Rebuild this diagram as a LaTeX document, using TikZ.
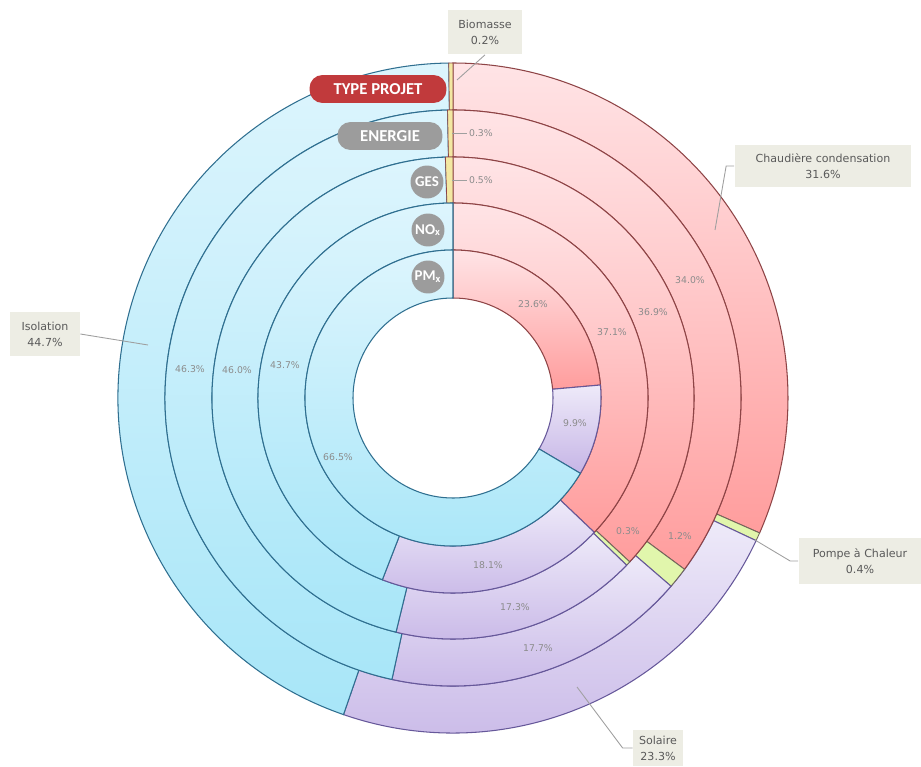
\documentclass[tikz,border=0pt]{standalone}
\usepackage{fontspec}
\setmainfont{Carlito}
\newfontfamily\labelfont{DejaVu Sans}
\usetikzlibrary{positioning}

\definecolor{redA}{HTML}{FFE4E6}
\definecolor{redB}{HTML}{FF9D9D}
\definecolor{redLine}{HTML}{8E4446}
\definecolor{bluA}{HTML}{DDF5FD}
\definecolor{bluB}{HTML}{A8E6F8}
\definecolor{bluLine}{HTML}{2F6F90}
\definecolor{purA}{HTML}{EEEAF9}
\definecolor{purB}{HTML}{C6B5E6}
\definecolor{purLine}{HTML}{66589A}
\definecolor{pompFill}{HTML}{E1F6AC}
\definecolor{bioFill}{HTML}{F3E8A2}
\definecolor{catRed}{HTML}{C13A3C}
\definecolor{catGray}{HTML}{9C9C9C}
\definecolor{calloutBg}{HTML}{EDEDE4}
\definecolor{calloutFg}{HTML}{5A5A5A}

% annular slice: inner r, outer r (px), from, to (deg clockwise from top), style
\newcommand\ringslice[5]{%
  \path[#5] (90-#3:#2*0.02cm) arc[start angle=90-#3, end angle=90-#4, radius=#2*0.02cm]
    -- (90-#4:#1*0.02cm) arc[start angle=90-#4, end angle=90-#3, radius=#1*0.02cm] -- cycle;}

\begin{document}
\begin{tikzpicture}[x=0.02cm, y=0.02cm,
  redslice/.style={top color=redA, bottom color=redB, draw=redLine, line width=0.6pt},
  bluslice/.style={top color=bluA, bottom color=bluB, draw=bluLine, line width=0.6pt},
  purslice/.style={top color=purA, bottom color=purB, draw=purLine, line width=0.6pt},
  pompslice/.style={fill=pompFill, draw=purLine!60!olive, line width=0.5pt},
  bioslice/.style={fill=bioFill, draw=redLine, line width=0.4pt},
  catbox/.style={rectangle, rounded corners=0.26cm, fill=#1, text=white, inner sep=0pt,
    minimum height=0.56cm, font=\fontsize{9.5}{10}\selectfont\bfseries},
  catdot/.style={circle, fill=catGray, text=white, inner sep=0pt, minimum size=0.66cm,
    font=\fontsize{8.5}{9}\selectfont\bfseries},
  callout/.style={rectangle, fill=calloutBg, text=calloutFg, align=center, inner sep=2pt,
    font=\labelfont\fontsize{6.3}{9}\selectfont},
  leader/.style={draw=gray!75, line width=0.5pt},
  pct/.style={font=\labelfont\fontsize{5.3}{6}\selectfont, text=black!45, inner sep=1pt}
]
  \useasboundingbox (0,0) rectangle (921,-767);

  \begin{scope}[shift={(453,-398)}]
    % TYPE PROJET
    \ringslice{288}{335}{0}{113.76}{redslice}
    \ringslice{288}{335}{113.76}{115.2}{pompslice}
    \ringslice{288}{335}{115.2}{199.08}{purslice}
    \ringslice{288}{335}{199.08}{359.28}{bluslice}
    \ringslice{288}{335}{359.28}{360}{bioslice}
    % ENERGIE
    \ringslice{241}{288}{0}{126.5}{redslice}
    \ringslice{241}{288}{126.5}{130.8}{pompslice}
    \ringslice{241}{288}{130.8}{192.24}{purslice}
    \ringslice{241}{288}{192.24}{358.92}{bluslice}
    \ringslice{241}{288}{358.92}{360}{bioslice}
    % GES
    \ringslice{195}{241}{0}{132.84}{redslice}
    \ringslice{195}{241}{132.84}{133.92}{pompslice}
    \ringslice{195}{241}{133.92}{193.68}{purslice}
    \ringslice{195}{241}{193.68}{358.2}{bluslice}
    \ringslice{195}{241}{358.2}{360}{bioslice}
    % NOx
    \ringslice{148}{195}{0}{133.56}{redslice}
    \ringslice{148}{195}{133.56}{201.24}{purslice}
    \ringslice{148}{195}{201.24}{360}{bluslice}
    % PMx
    \ringslice{100}{148}{0}{84.96}{redslice}
    \ringslice{100}{148}{84.96}{120.6}{purslice}
    \ringslice{100}{148}{120.6}{360}{bluslice}
  \end{scope}

  % ring names
  \node[catbox=catRed, minimum width=2.74cm] (typeprojet) at (378,-89) {TYPE PROJET};
  \node[catbox=catGray, minimum width=2.1cm] (energie) at (390,-136) {ENERGIE};
  \node[catdot] (ges) at (427,-182) {GES};
  \node[catdot] (nox) at (428,-230) {NO\textsubscript{x}};
  \node[catdot] (pmx) at (428,-277) {PM\textsubscript{x}};

  % values inside the rings
  \node[pct] (pmChaud) at (533,-304) {23.6\%};
  \node[pct] (noxChaud) at (612,-332) {37.1\%};
  \node[pct] (gesChaud) at (653,-312) {36.9\%};
  \node[pct] (enChaud) at (690,-280) {34.0\%};
  \node[pct] (pmSol) at (575,-423) {9.9\%};
  \node[pct] (pmIso) at (338,-457) {66.5\%};
  \node[pct] (enIso) at (190,-369) {46.3\%};
  \node[pct] (gesIso) at (237,-370) {46.0\%};
  \node[pct] (noxIso) at (285,-365) {43.7\%};
  \node[pct] (noxSol) at (488,-565) {18.1\%};
  \node[pct] (gesSol) at (515,-607) {17.3\%};
  \node[pct] (enSol) at (538,-648) {17.7\%};
  \node[pct] (gesPomp) at (628,-531) {0.3\%};
  \node[pct] (enPomp) at (680,-536) {1.2\%};
  \node[pct, anchor=west] (enBio) at (467,-133) {0.3\%};
  \node[pct, anchor=west] (gesBio) at (467,-180) {0.5\%};
  \coordinate (enBioPt) at (452,-133);
  \coordinate (gesBioPt) at (452,-180);
  \draw[leader] (enBioPt) -- (enBio.west);
  \draw[leader] (gesBioPt) -- (gesBio.west);

  % callouts of the outer ring
  \node[callout, minimum width=1.5cm, minimum height=0.9cm] (bioBox) at (485,-32) {Biomasse\\0.2\%};
  \node[callout, minimum width=3.54cm, minimum height=0.86cm] (chaudBox) at (823,-166) {Chaudière condensation\\31.6\%};
  \node[callout, minimum width=2.46cm, minimum height=0.94cm] (pompeBox) at (860,-561) {Pompe à Chaleur\\0.4\%};
  \node[callout, minimum width=1cm, minimum height=0.74cm, inner sep=1pt] (solBox) at (658,-748) {Solaire\\23.3\%};
  \node[callout, minimum width=1.4cm, minimum height=0.9cm] (isoBox) at (45,-334) {Isolation\\44.7\%};

  \coordinate (bioPt) at (457,-80);
  \coordinate (chaudPt) at (715,-230);
  \coordinate (pompePt) at (755,-540);
  \coordinate (solPt) at (577,-687);
  \coordinate (isoPt) at (148,-345);

  \draw[leader] (bioBox.south) -- (bioPt);
  \draw[leader] (chaudBox.west) -- ++(-8,0) -- (chaudPt);
  \draw[leader] (pompeBox.west) -- ++(-8,0) -- (pompePt);
  \draw[leader] (solBox.west) -- ++(-10,0) -- (solPt);
  \draw[leader] (isoBox.east) -- (isoPt);
\end{tikzpicture}
\end{document}
